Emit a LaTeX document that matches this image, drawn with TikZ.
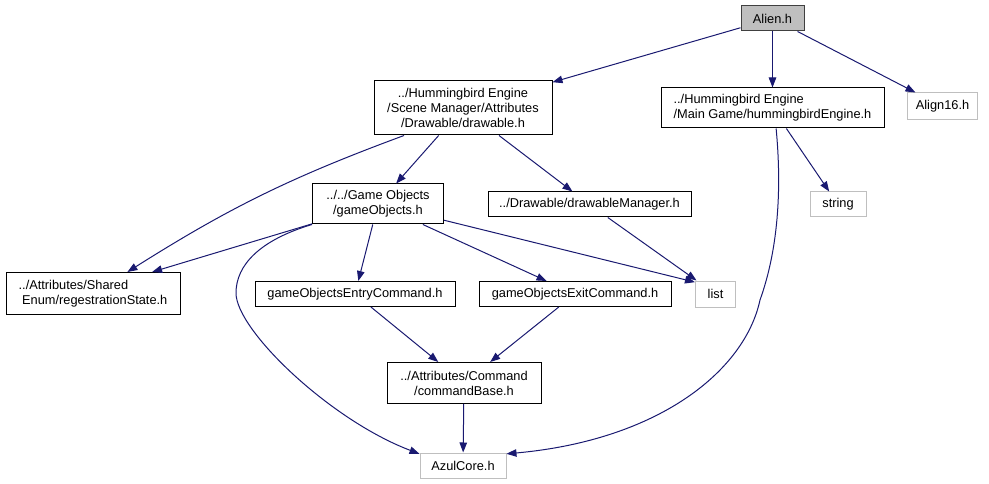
\documentclass[tikz,border=0pt]{standalone}
\usepackage{fontspec}
\setmainfont{Liberation Sans}
\usepackage{xcolor}
\usetikzlibrary{arrows.meta,positioning}

\definecolor{edgeblue}{HTML}{191970}
\definecolor{extgray}{HTML}{BFBFBF}

\begin{document}
\begin{tikzpicture}[x=1pt, y=-1pt,
  font=\fontsize{12.8}{15}\selectfont,
  block/.style={rectangle, draw=black, line width=1pt, inner sep=0pt, align=center, minimum height=25pt},
  extblock/.style={block, draw=extgray},
  rootblock/.style={block, draw=black!75, fill=extgray},
  line/.style={draw, edgeblue, line width=1pt, -{Triangle[length=10pt,width=7.5pt]}}]

  \useasboundingbox (0,0) rectangle (989,484);

  \node [rootblock, minimum width=63pt] (alien) at (772.5,18.5) {Alien.h};
  \node [block, minimum width=178pt, minimum height=54pt] (drawable) at (463,108) {../Hummingbird Engine\\/Scene Manager/Attributes\\/Drawable/drawable.h};
  \node [block, minimum width=223pt, minimum height=40pt, align=left] (hbe) at (772.5,108) {../Hummingbird Engine\\/Main Game/hummingbirdEngine.h};
  \node [extblock, minimum width=70pt, minimum height=27pt] (align) at (942.5,106.5) {Align16.h};
  \node [block, minimum width=131pt, minimum height=40pt] (gameobj) at (378,204) {../../Game Objects\\/gameObjects.h};
  \node [block, minimum width=203pt] (dmgr) at (589.5,204.5) {../Drawable/drawableManager.h};
  \node [extblock, minimum width=56pt] (string) at (838,204.5) {string};
  \node [block, minimum width=174pt, minimum height=42pt, align=left] (regstate) at (93,293.5) {../Attributes/Shared\\\ Enum/regestrationState.h};
  \node [block, minimum width=200pt] (entry) at (355,294) {gameObjectsEntryCommand.h};
  \node [block, minimum width=192pt] (exitcmd) at (575,294) {gameObjectsExitCommand.h};
  \node [extblock, minimum width=40pt, minimum height=26pt] (list) at (715.5,294) {list};
  \node [block, minimum width=154pt, minimum height=41pt] (cmdbase) at (464,383) {../Attributes/Command\\/commandBase.h};
  \node [extblock, minimum width=86pt] (azul) at (463,465.5) {AzulCore.h};

  \draw [line] (alien) -- (drawable);
  \draw [line] (alien) -- (hbe);
  \draw [line] (alien) -- (align);
  \draw [line] (drawable) -- (gameobj);
  \draw [line] (drawable) -- (dmgr);
  \draw [line] (drawable.-155) to[bend right=6] (regstate.32);
  \draw [line] (hbe.-80) .. controls (782,190) and (778,250) .. (760,300)
    .. controls (745,370) and (660,440) .. (azul.15);
  \draw [line] (hbe) -- (string);
  \draw [line] (gameobj) -- (regstate.20);
  \draw [line] (gameobj) -- (entry);
  \draw [line] (gameobj) -- (exitcmd);
  \draw [line] (gameobj) -- (list.150);
  \draw [line] (gameobj.south west) .. controls (260,240) and (236,265) .. (236,293)
    .. controls (236,330) and (330,420) .. (azul.165);
  \draw [line] (dmgr) -- (list);
  \draw [line] (entry) -- (cmdbase);
  \draw [line] (exitcmd) -- (cmdbase);
  \draw [line] (cmdbase) -- (azul);
\end{tikzpicture}
\end{document}
